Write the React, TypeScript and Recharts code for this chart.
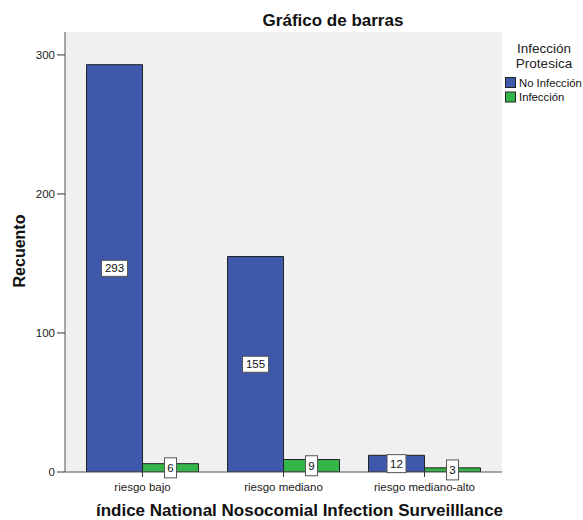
import React from 'react';
import { BarChart, Bar, XAxis, YAxis, CartesianGrid, LabelList } from 'recharts';

const categories = ['riesgo bajo', 'riesgo mediano', 'riesgo mediano-alto'];
const noInfeccion = [293, 155, 12];
const infeccion = [6, 9, 3];
const yTicks = [0, 100, 200, 300];
const seriesNames = ['No Infección', 'Infección'];
const seriesColors = ['#3e58ac', '#33b54a'];
const legendTitle = ['Infección', 'Protesica'];
const chartTitle = 'Gráfico de barras';
const xTitle = 'índice National Nosocomial Infection Surveilllance';
const yTitle = 'Recuento';

const data = categories.map((c, i) => ({ cat: c, a: noInfeccion[i], b: infeccion[i] }));

const FONT = '"Liberation Sans", Arial, sans-serif';

const ValueLabel = (props: any) => {
  const { x, y, width, height, value } = props;
  const cx = Number(x) + Number(width) / 2;
  const cy = Number(y) + Number(height) / 2;
  const s = String(value);
  const w = s.length * 7 + 5;
  const h = s.length === 1 ? 20 : s.length === 2 ? 18 : 16;
  return (
    <g>
      <rect x={cx - w / 2} y={cy - h / 2} width={w} height={h} fill="#ffffff" stroke="#555" strokeWidth={1} />
      <text x={cx} y={cy + 4} textAnchor="middle" fontSize={11.5} fontFamily={FONT} fill="#111">
        {s}
      </text>
    </g>
  );
};

export default function App() {
  return (
    <div style={{ position: 'absolute', left: 0, top: 0, width: 583, height: 520, background: '#fff', fontFamily: FONT }}>
      <BarChart
        width={583}
        height={520}
        data={data}
        margin={{ top: 32, right: 81, bottom: 0, left: 0 }}
        barGap={0}
        barCategoryGap="10.3%"
      >
        <CartesianGrid fill="#f0f0f0" horizontal={false} vertical={false} />
        <XAxis
          dataKey="cat"
          height={48}
          padding={{ left: 7, right: 7 }}
          tickSize={5}
          tickMargin={6}
          tickLine={{ stroke: '#333' }}
          axisLine={{ stroke: '#555' }}
          tick={{ fontSize: 11.5, fill: '#222', fontFamily: FONT }}
          interval={0}
          label={{
            content: (p: any) => {
              const vb = p.viewBox || {};
              return (
                <text x={vb.x + vb.width / 2 + 16} y={vb.y + 44} textAnchor="middle" fontSize={17} fontWeight="bold" fontFamily={FONT} fill="#111">
                  {xTitle}
                </text>
              );
            },
          }}
        />
        <XAxis xAxisId="top" dataKey="cat" orientation="top" height={0} tick={false} tickLine={false} axisLine={{ stroke: '#666' }} />
        <YAxis
          width={65}
          domain={[0, 316.5]}
          ticks={yTicks}
          tickSize={8}
          tickMargin={2}
          tickLine={{ stroke: '#333' }}
          axisLine={{ stroke: '#555' }}
          tick={{ fontSize: 11.5, fill: '#222', fontFamily: FONT }}
          allowDataOverflow
          label={{
            content: (p: any) => {
              const vb = p.viewBox || {};
              const cx = 25;
              const cy = vb.y + vb.height / 2 - 1;
              return (
                <text x={cx} y={cy} transform={`rotate(-90, ${cx}, ${cy})`} textAnchor="middle" fontSize={16} fontWeight="bold" fontFamily={FONT} fill="#111">
                  {yTitle}
                </text>
              );
            },
          }}
        />
        <YAxis yAxisId="right" orientation="right" width={0} domain={[0, 316.5]} tick={false} tickLine={false} axisLine={{ stroke: '#777' }} />
        <Bar dataKey="a" name={seriesNames[0]} fill={seriesColors[0]} stroke="#222" strokeWidth={1} isAnimationActive={false}>
          <LabelList dataKey="a" content={ValueLabel} />
        </Bar>
        <Bar dataKey="b" name={seriesNames[1]} fill={seriesColors[1]} stroke="#222" strokeWidth={1} isAnimationActive={false}>
          <LabelList dataKey="b" content={ValueLabel} />
        </Bar>
      </BarChart>
      <svg width={583} height={520} style={{ position: 'absolute', left: 0, top: 0, pointerEvents: 'none' }}>
        <text x={333} y={26} textAnchor="middle" fontSize={17} fontWeight="bold" fontFamily={FONT} fill="#111">
          {chartTitle}
        </text>
        {legendTitle.map((t, i) => (
          <text key={t} x={544} y={53 + i * 14.5} textAnchor="middle" fontSize={13.5} fontFamily={FONT} fill="#222">
            {t}
          </text>
        ))}
        {seriesNames.map((n, i) => (
          <g key={n}>
            <rect x={505.5} y={77.5 + i * 14.5} width={10} height={10} fill={seriesColors[i]} stroke="#222" strokeWidth={1} />
            <text x={519} y={86.5 + i * 14.5} fontSize={11.3} fontFamily={FONT} fill="#111">
              {n}
            </text>
          </g>
        ))}
      </svg>
    </div>
  );
}
